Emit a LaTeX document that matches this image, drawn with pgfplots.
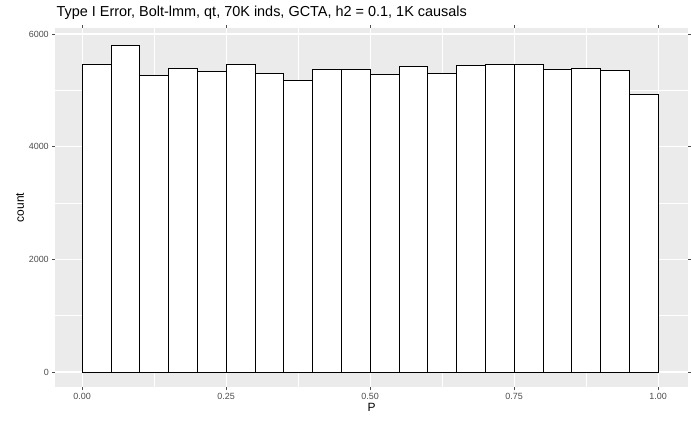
\documentclass[border=0pt]{standalone}
\usepackage{pgfplots}
\pgfplotsset{compat=1.18}
\usepackage{fontspec}
\setmainfont{Liberation Sans}
\definecolor{panelbg}{HTML}{EBEBEB}
\definecolor{ticktxt}{HTML}{4D4D4D}
\begin{document}
\begin{tikzpicture}
\begin{axis}[
  at={(0,0)}, anchor=south west,
  scale only axis, width=633bp, height=359bp,
  xmin=-0.047, xmax=1.052, ymin=-266, ymax=6107,
  axis background/.style={fill=panelbg},
  axis line style={draw=none},
  xtick={0,0.25,0.5,0.75,1}, xticklabels={0.00,0.25,0.50,0.75,1.00},
  ytick={0,2000,4000,6000}, yticklabels={0,2000,4000,6000},
  minor xtick={0.125,0.375,0.625,0.875},
  minor ytick={1000,3000,5000},
  grid=both,
  major grid style={white, line width=1.1pt},
  minor grid style={white, line width=0.55pt},
  tick align=outside, major tick length=2.75pt, minor tick length=0pt,
  tick style={ticktxt, line width=0.5pt},
  ticklabel style={font=\fontsize{9}{10}\selectfont, text=ticktxt},
  xlabel={P}, ylabel={count},
  label style={font=\fontsize{12}{13}\selectfont},
  xlabel style={yshift=3pt},
  ylabel style={yshift=-2pt},
  title={Type I Error, Bolt-lmm, qt, 70K inds, GCTA, h2 = 0.1, 1K causals},
  title style={at={(0,1)}, anchor=south west, font=\fontsize{14.5}{16}\selectfont, xshift=-2pt, yshift=-1pt},
]
\addplot[ybar, bar width=0.05, fill=white, draw=black, line width=0.6pt] coordinates {
(0.025,5470) (0.075,5800) (0.125,5270) (0.175,5395) (0.225,5340)
(0.275,5465) (0.325,5305) (0.375,5180) (0.425,5380) (0.475,5375)
(0.525,5290) (0.575,5430) (0.625,5305) (0.675,5445) (0.725,5460)
(0.775,5465) (0.825,5380) (0.875,5390) (0.925,5355) (0.975,4935)
};
\end{axis}
\useasboundingbox (-55bp,-38bp) rectangle (636bp,387bp);
\end{tikzpicture}
\end{document}
